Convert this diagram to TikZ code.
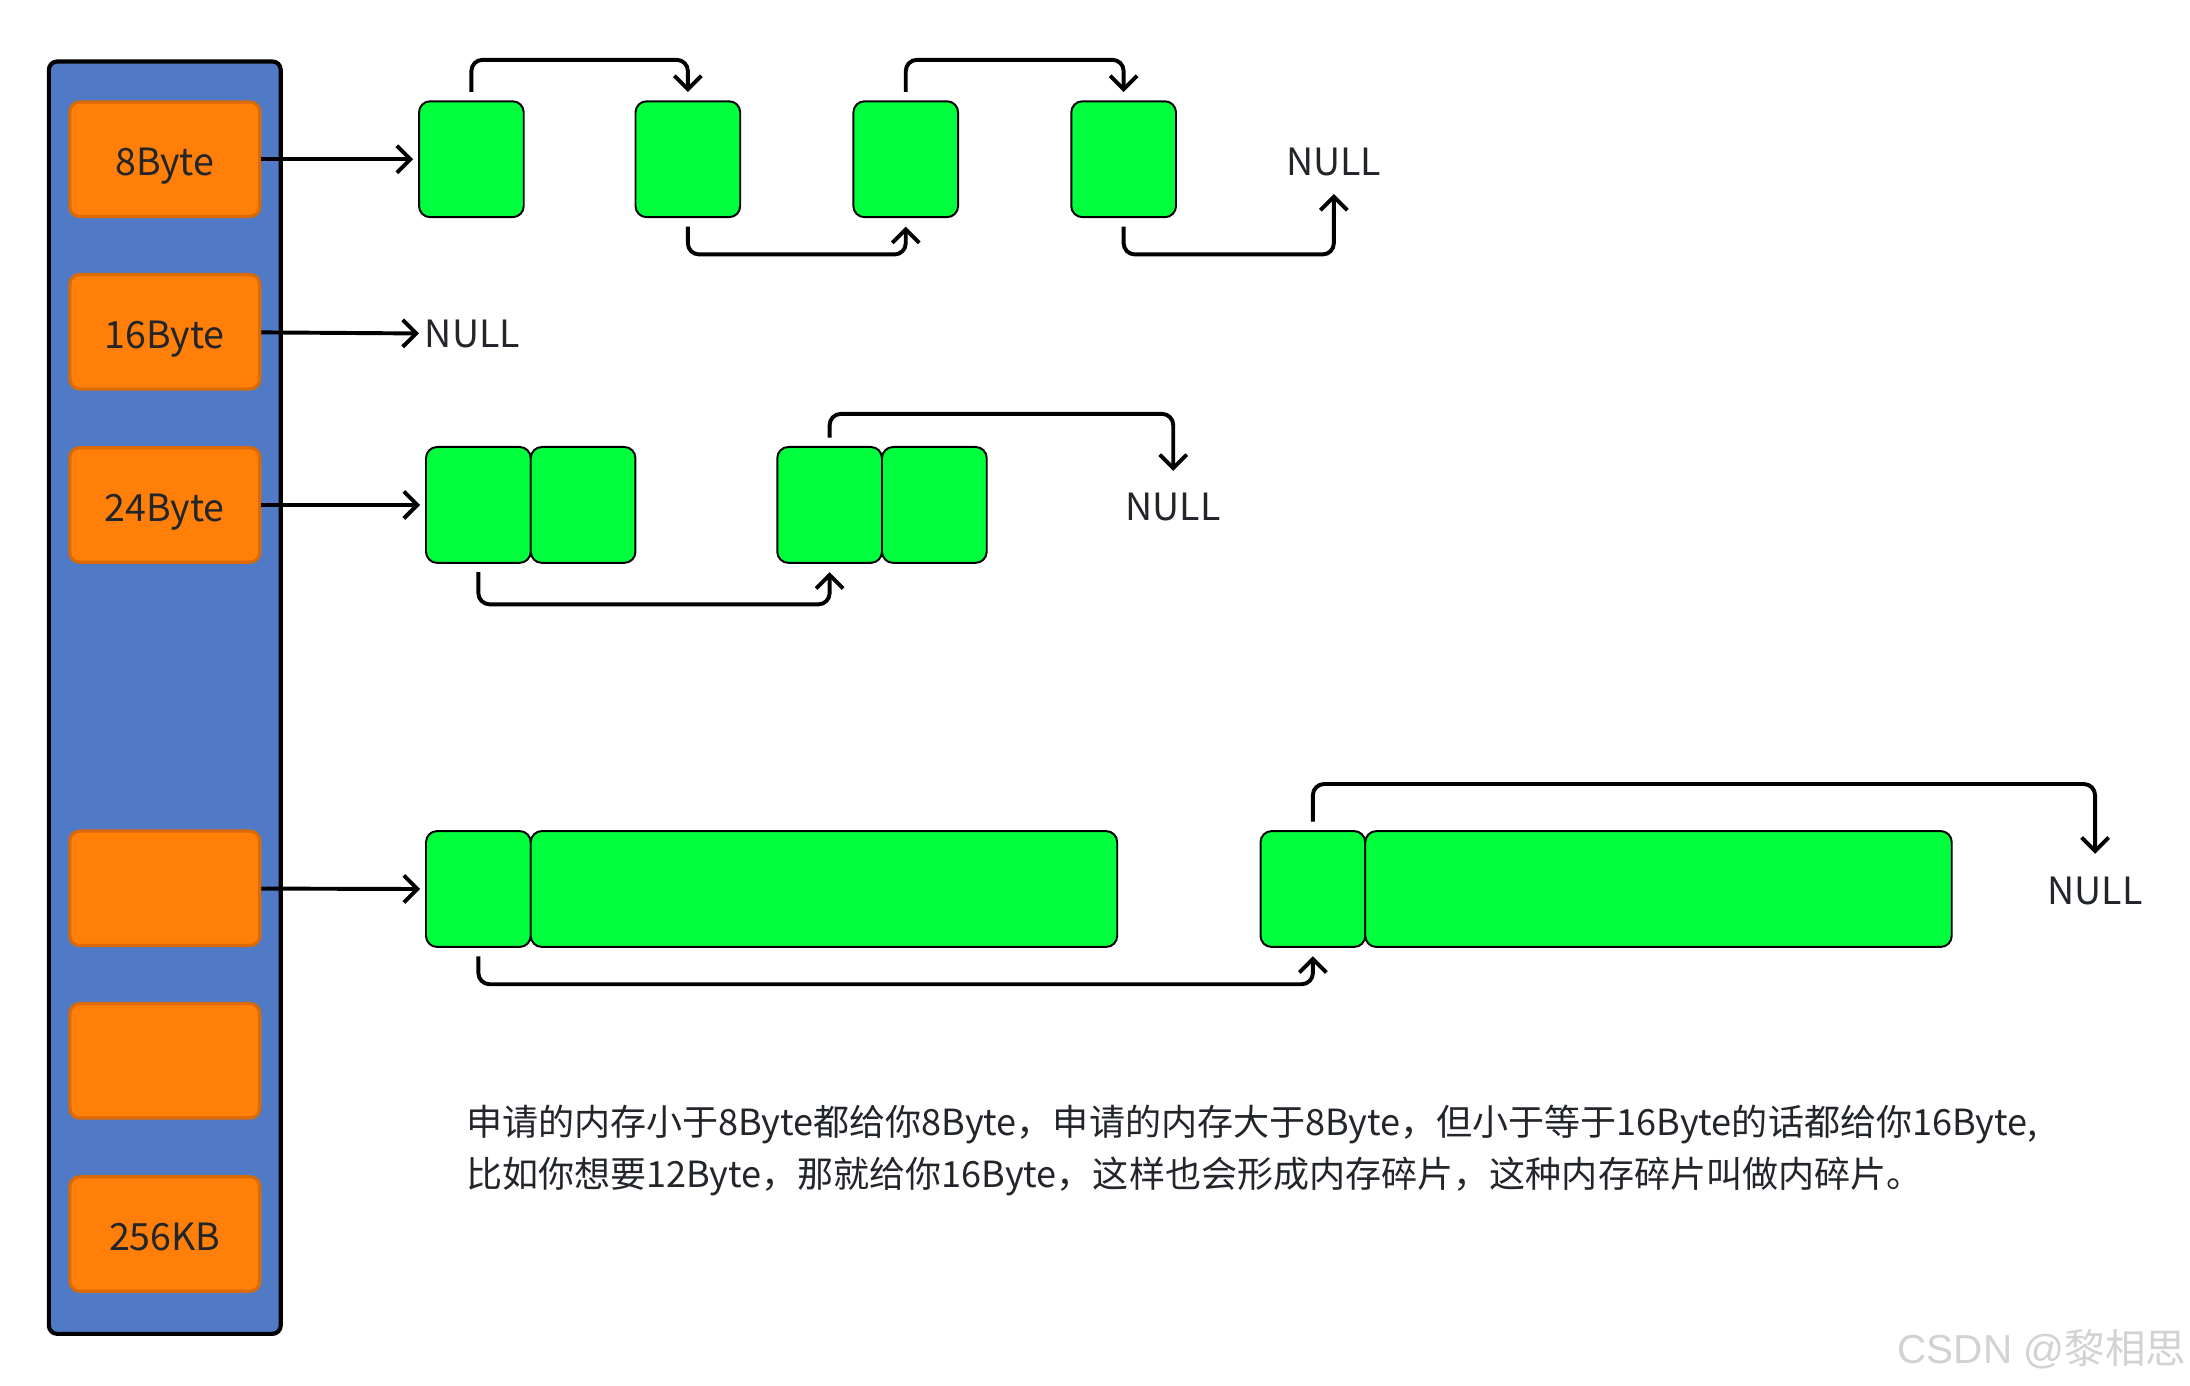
\documentclass[tikz,border=0pt]{standalone}
\usepackage{fontspec}
\setmainfont{Noto Sans CJK SC}
\newfontfamily\markfont{Liberation Sans}
\usetikzlibrary{positioning,arrows.meta}
\definecolor{poolblue}{HTML}{5079C6}
\definecolor{binorange}{HTML}{FF7F08}
\definecolor{binedge}{HTML}{D96A06}
\definecolor{chunkgreen}{HTML}{00FF3C}
\definecolor{ink}{HTML}{22252A}
\tikzset{
  bin/.style={draw=binedge, line width=1.3pt, fill=binorange, rounded corners=0.14cm,
    minimum width=2.72cm, minimum height=1.64cm, inner sep=0pt, text=ink,
    text height=13.4pt, text depth=0pt, font=\fontsize{15.3}{18}\selectfont},
  chunk/.style={draw=black, line width=0.8pt, fill=chunkgreen, rounded corners=0.16cm,
    minimum width=1.5cm, minimum height=1.66cm, inner sep=0pt},
  nil/.style={text=ink, inner sep=2pt, font=\fontsize{15.3}{18}\selectfont},
  link/.style={line width=1.6pt, rounded corners=0.16cm,
    -{Straight Barb[length=5.5pt,width=11pt]}},
}

\begin{document}
\begin{tikzpicture}[thick, x=0.02cm, y=-0.02cm]
    \useasboundingbox (0,0) rectangle (1568,992);

    % free list heads
    \draw [fill=poolblue, line width=1.7pt, rounded corners=0.12cm] (35,44) rectangle (201,955);
    \node [bin] (b8) at (118,114) {8Byte};
    \node [bin] (b16) at (118,237.5) {16Byte};
    \node [bin] (b24) at (118,361.5) {24Byte};
    \node [bin] (bx) at (118,636) {};
    \node [bin] (by) at (118,759.5) {};
    \node [bin] (b256) at (118,883.5) {256KB};

    % 8Byte chunks
    \node [chunk] (p1) at (337.5,114) {};
    \node [chunk] (p2) at (492.5,114) {};
    \node [chunk] (p3) at (648.5,114) {};
    \node [chunk] (p4) at (804.5,114) {};
    \node [nil] (n8) at (955,116) {NULL};

    % 16Byte is empty
    \node [nil, anchor=west] (n16) at (300,239) {NULL};

    % 24Byte chunks
    \node [chunk] (q1) at (342.5,361.5) {};
    \node [chunk, right=-0.8pt of q1] (q2) {};
    \node [chunk] (q3) at (594,361.5) {};
    \node [chunk, right=-0.8pt of q3] (q4) {};
    \node [nil] (n24) at (840,363) {NULL};

    % big chunks
    \node [chunk] (r1) at (342.5,636.5) {};
    \node [chunk, minimum width=8.4cm, right=-0.8pt of r1] (r2) {};
    \node [chunk] (r3) at (940,636.5) {};
    \node [chunk, minimum width=8.4cm, right=-0.8pt of r3] (r4) {};
    \node [nil] (nx) at (1500,638) {NULL};

    % heads to first chunk
    \draw [link] (b8) -- ([xshift=-2pt]p1.west);
    \draw [link] (b16) -- (n16);
    \draw [link] (b24) -- ([xshift=-2pt]q1.west);
    \draw [link] (bx) -- ([xshift=-2pt]r1.west);

    % next pointers
    \draw [link] ([yshift=3.4pt]p1.north) -- ++(0,-23) -| ([yshift=3.4pt]p2.north);
    \draw [link] ([yshift=-3.4pt]p2.south) -- ++(0,20) -| ([yshift=-3.4pt]p3.south);
    \draw [link] ([yshift=3.4pt]p3.north) -- ++(0,-23) -| ([yshift=3.4pt]p4.north);
    \draw [link] ([yshift=-3.4pt]p4.south) -- ++(0,20) -| ([yshift=-4.9pt]n8.south);
    \draw [link] ([yshift=-3.4pt]q1.south) -- ++(0,23) -| ([yshift=-3.4pt]q3.south);
    \draw [link] ([yshift=3.4pt]q3.north) -- ++(0,-17) -| ([yshift=6.6pt]n24.north);
    \draw [link] ([yshift=-3.4pt]r1.south) -- ++(0,20) -| ([yshift=-3.4pt]r3.south);
    \draw [link] ([yshift=3.4pt]r3.north) -- ++(0,-27) -| ([yshift=7.1pt]nx.north);

    % add labels
    \node [anchor=base west, inner sep=0pt, text=ink, font=\fontsize{14.7}{18}\selectfont] (note1) at (333,813)
      {申请的内存小于8Byte都给你8Byte，申请的内存大于8Byte，但小于等于16Byte的话都给你16Byte,};
    \node [anchor=base west, inner sep=0pt, text=ink, font=\fontsize{14.7}{18}\selectfont] (note2) at (333,850)
      {比如你想要12Byte，那就给你16Byte，这样也会形成内存碎片，这种内存碎片叫做内碎片。};
    \node [anchor=base east, inner sep=0pt, text=gray!35, font=\fontsize{16.5}{18}\selectfont] (mark) at (1566,976)
      {{\markfont CSDN @}黎相思};
\end{tikzpicture}
\end{document}
